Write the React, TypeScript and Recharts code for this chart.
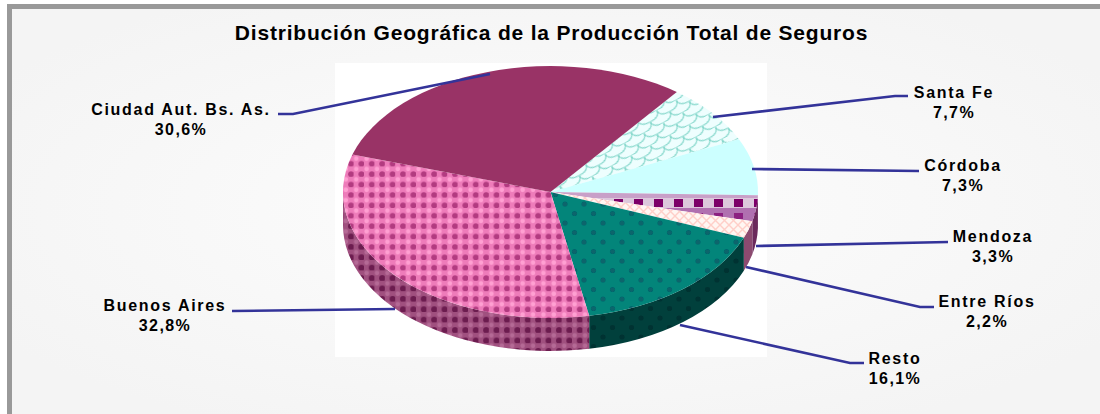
import React from "react";
import { PieChart, Pie, Cell } from "recharts";

const provinces = ["Santa Fe", "Córdoba", "Mendoza", "Entre Ríos", "Resto", "Buenos Aires", "Ciudad Aut. Bs. As."];
const shares = [7.7, 7.3, 3.3, 2.2, 16.1, 32.8, 30.6];
const shareLabels = ["7,7%", "7,3%", "3,3%", "2,2%", "16,1%", "32,8%", "30,6%"];

const data = provinces.map((name, i) => ({ name, value: shares[i], text: shareLabels[i] }));

const W = 1100;
const H = 414;
const CX = 550.5;
const CY = 192;
const RX = 207.5;
const RY = 126;
const DEPTH = 33;
const START = 52.5;

const topFills = ["url(#santaFe)", "#ccffff", "url(#mendoza)", "url(#entreRios)", "url(#resto)", "url(#baires)", "#993366"];
const sideFills = ["#8a7a90", "#8a7a90", "#6b2a5c", "#8c4a70", "url(#restoSide)", "url(#bairesSide)", "#7a2850"];

// where the label text sits, and the leader line that reaches it
const labelLayout = [
  { x: 954, y: 98, line: [[713, 117], [895, 96], [908, 96]] },
  { x: 963, y: 171, line: [[752, 169], [919, 171]] },
  { x: 993, y: 242, line: [[756, 246], [948, 242]] },
  { x: 987, y: 307, line: [[746, 267], [920, 307], [934, 307]] },
  { x: 895, y: 364, line: [[680, 325], [850, 363], [864, 363]] },
  { x: 165, y: 311, line: [[395, 309], [232, 311]] },
  { x: 181, y: 115, line: [[490, 74], [293, 114], [278, 114]] },
];

const rad = (a: number) => (a * Math.PI) / 180;
const ex = (a: number) => CX + RX * Math.cos(rad(a));
const ey = (a: number) => CY - RY * Math.sin(rad(a));

// the library hands out circular sectors; squash them on to the tilted ellipse
const TopSector = (props: any) => {
  const { startAngle, endAngle, fill } = props;
  const large = Math.abs(endAngle - startAngle) > 180 ? 1 : 0;
  const d = `M${CX},${CY} L${ex(startAngle)},${ey(startAngle)} A${RX},${RY} 0 ${large} 1 ${ex(endAngle)},${ey(endAngle)} Z`;
  return <path d={d} fill={fill} />;
};

const SideSector = (props: any) => {
  const { startAngle, endAngle, fill } = props;
  // only the front half of the rim shows (angles between 0 and -180)
  const norm = (a: number) => (a > 0 ? a - 360 : a);
  let s = norm(startAngle);
  let e = norm(endAngle);
  if (startAngle > 0 && endAngle < 0) s = 0;
  s = Math.min(s, 0);
  e = Math.max(e, -180);
  if (s <= e) return null;
  const large = s - e > 180 ? 1 : 0;
  const d = `M${ex(s)},${ey(s)} A${RX},${RY} 0 ${large} 1 ${ex(e)},${ey(e)} L${ex(e)},${ey(e) + DEPTH} A${RX},${RY} 0 ${large} 0 ${ex(s)},${ey(s) + DEPTH} Z`;
  return <path d={d} fill={fill} />;
};

const LeaderLabel = (props: any) => {
  const i = props.index;
  const l = labelLayout[i];
  return (
    <g>
      <polyline points={l.line.map((p) => p.join(",")).join(" ")} fill="none" stroke="#333399" strokeWidth={2.6} />
      <text x={l.x} y={l.y} textAnchor="middle" fontFamily="Liberation Sans" fontWeight={700} fontSize={16} letterSpacing={1.7} fill="#000">
        {data[i].name}
      </text>
      <text x={l.x} y={l.y + 20} textAnchor="middle" fontFamily="Liberation Sans" fontWeight={700} fontSize={16} letterSpacing={1.4} fill="#000">
        {data[i].text}
      </text>
    </g>
  );
};

export default function App() {
  return (
    <div style={{ position: "absolute", left: 0, top: 0, width: W, height: H }}>
      <PieChart width={W} height={H} margin={{ top: 0, right: 0, bottom: 0, left: 0 }}>
        <defs>
          <radialGradient id="panel" cx="50%" cy="50%" r="60%">
            <stop offset="0%" stopColor="#fdfdfd" />
            <stop offset="100%" stopColor="#f4f4f4" />
          </radialGradient>
          <filter id="soft" x="-20%" y="-20%" width="140%" height="140%">
            <feGaussianBlur stdDeviation="0.7" />
          </filter>
          <pattern id="baires" width="10.4" height="10.4" patternUnits="userSpaceOnUse">
            <rect width="10.4" height="10.4" fill="#ee7cba" />
            <circle cx="2.6" cy="2.6" r="2.3" fill="#ffa0d2" filter="url(#soft)" />
            <circle cx="7.8" cy="7.8" r="2.9" fill="#b23a80" filter="url(#soft)" />
          </pattern>
          <pattern id="bairesSide" width="10.4" height="10.4" patternUnits="userSpaceOnUse">
            <rect width="10.4" height="10.4" fill="#a0507f" />
            <circle cx="2.6" cy="2.6" r="2.3" fill="#b56a96" filter="url(#soft)" />
            <circle cx="7.8" cy="7.8" r="3" fill="#6c1c50" filter="url(#soft)" />
          </pattern>
          <pattern id="resto" width="19" height="19" patternUnits="userSpaceOnUse">
            <rect width="19" height="19" fill="#03857a" />
            <circle cx="4.5" cy="4.5" r="2.6" fill="#07656c" filter="url(#soft)" />
            <circle cx="14" cy="14" r="2.6" fill="#07656c" filter="url(#soft)" />
          </pattern>
          <pattern id="restoSide" width="19" height="19" patternUnits="userSpaceOnUse">
            <rect width="19" height="19" fill="#01403c" />
            <circle cx="4.5" cy="4.5" r="2.6" fill="#013230" filter="url(#soft)" />
            <circle cx="14" cy="14" r="2.6" fill="#013230" filter="url(#soft)" />
          </pattern>
          <pattern id="santaFe" width="22" height="14" patternUnits="userSpaceOnUse" patternTransform="rotate(-28)">
            <rect width="22" height="14" fill="#eefefe" />
            <path d="M0,0 Q0,7 11,7 Q22,7 22,0 M-11,7 Q-11,14 0,14 Q11,14 11,7 Q11,14 22,14 Q33,14 33,7" fill="none" stroke="#86d8cc" strokeWidth={1.2} />
          </pattern>
          <pattern id="mendoza" x="649" y="198" width="20" height="30" patternUnits="userSpaceOnUse">
            <rect width="20" height="30" fill="#c8a0c8" />
            <rect x="0" y="0" width="20" height="10" fill="#dcc8dc" />
            <rect x="5" y="1" width="9" height="8" fill="#7c0068" />
            <rect x="0" y="10" width="20" height="14" fill="#b070b0" />
            <rect x="5" y="15" width="9" height="6" fill="#8c2080" />
          </pattern>
          <pattern id="entreRios" width="9" height="9" patternUnits="userSpaceOnUse">
            <rect width="9" height="9" fill="#fff6f2" />
            <path d="M0,0 L9,9 M9,0 L0,9" stroke="#ffcfc8" strokeWidth={1.4} />
          </pattern>
        </defs>

        <rect x={7} y={4} width={1093} height={410} fill="url(#panel)" />
        <rect x={335} y={63} width={432} height={294} fill="#ffffff" />
        <path d="M9.5,414 L9.5,6.5 L1100,6.5" fill="none" stroke="#999999" strokeWidth={5} />

        <text x={551.5} y={40} textAnchor="middle" fontFamily="Liberation Sans" fontWeight={700} fontSize={21} letterSpacing={0.8} fill="#000">
          Distribución Geográfica de la Producción Total de Seguros
        </text>

        <Pie
          data={data}
          dataKey="value"
          cx={CX}
          cy={CY}
          outerRadius={RX}
          startAngle={START}
          endAngle={START - 360}
          isAnimationActive={false}
          stroke="none"
          shape={SideSector}
          label={false}
          labelLine={false}
          legendType="none"
        >
          {data.map((d, i) => (
            <Cell key={d.name} fill={sideFills[i]} />
          ))}
        </Pie>
        <Pie
          data={data}
          dataKey="value"
          cx={CX}
          cy={CY}
          outerRadius={RX}
          startAngle={START}
          endAngle={START - 360}
          isAnimationActive={false}
          stroke="none"
          shape={TopSector}
          label={LeaderLabel}
          labelLine={false}
        >
          {data.map((d, i) => (
            <Cell key={d.name} fill={topFills[i]} />
          ))}
        </Pie>
      </PieChart>
    </div>
  );
}
